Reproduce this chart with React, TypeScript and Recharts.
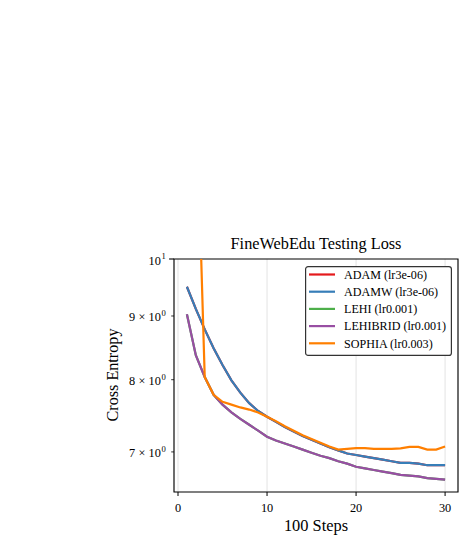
import {
  CartesianGrid,
  Legend,
  Line,
  LineChart,
  ReferenceArea,
  XAxis,
  YAxis,
} from "recharts";

const FONT = '"Liberation Serif", "Times New Roman", "DejaVu Serif", serif';

const STEPS = [
  1, 2, 3, 4, 5, 6, 7, 8, 9, 10, 11, 12, 13, 14, 15, 16, 17, 18, 19, 20, 21, 22, 23, 24, 25, 26, 27, 28,
  29, 30,
];

const ADAM = [
  9.5, 9.12, 8.78, 8.48, 8.22, 7.99, 7.81, 7.66, 7.55, 7.47, 7.4, 7.33, 7.27, 7.21, 7.16, 7.11, 7.06,
  7.02, 6.98, 6.96, 6.94, 6.92, 6.9, 6.88, 6.86, 6.86, 6.85, 6.83, 6.83, 6.83,
];
const ADAMW = [
  9.5, 9.12, 8.78, 8.48, 8.22, 7.99, 7.81, 7.66, 7.55, 7.47, 7.4, 7.33, 7.27, 7.21, 7.16, 7.11, 7.06,
  7.02, 6.98, 6.96, 6.94, 6.92, 6.9, 6.88, 6.86, 6.86, 6.85, 6.83, 6.83, 6.83,
];
const LEHI = [
  9.03, 8.37, 8.04, 7.78, 7.64, 7.53, 7.44, 7.36, 7.28, 7.2, 7.15, 7.11, 7.07, 7.03, 6.99, 6.95, 6.92,
  6.88, 6.85, 6.81, 6.79, 6.77, 6.75, 6.73, 6.71, 6.7, 6.69, 6.67, 6.66, 6.65,
];
const LEHIBRID = [
  9.03, 8.37, 8.04, 7.78, 7.64, 7.53, 7.44, 7.36, 7.28, 7.2, 7.15, 7.11, 7.07, 7.03, 6.99, 6.95, 6.92,
  6.88, 6.85, 6.81, 6.79, 6.77, 6.75, 6.73, 6.71, 6.7, 6.69, 6.67, 6.66, 6.65,
];
// first two evaluations blow up far above the plotted range and get clipped
const SOPHIA = [
  30, 14, 8.04, 7.78, 7.68, 7.64, 7.6, 7.57, 7.53, 7.47, 7.41, 7.34, 7.28, 7.22, 7.17, 7.12, 7.07,
  7.03, 7.04, 7.05, 7.05, 7.04, 7.04, 7.04, 7.045, 7.065, 7.065, 7.03, 7.03, 7.07,
];

const X_TICKS = [0, 10, 20, 30];
const Y_TICKS = [7, 8, 9, 10];

const SERIES = [
  { key: "adam", name: "ADAM (lr3e-06)", color: "#e41a1c", values: ADAM },
  { key: "adamw", name: "ADAMW (lr3e-06)", color: "#377eb8", values: ADAMW },
  { key: "lehi", name: "LEHI (lr0.001)", color: "#4daf4a", values: LEHI },
  { key: "lehibrid", name: "LEHIBRID (lr0.001)", color: "#984ea3", values: LEHIBRID },
  { key: "sophia", name: "SOPHIA (lr0.003)", color: "#ff7f00", values: SOPHIA },
];

const data = STEPS.map((step, i) => {
  const row: Record<string, number> = { step };
  SERIES.forEach((s) => {
    row[s.key] = s.values[i];
  });
  return row;
});

const X_DOMAIN = [-0.45, 31.45];
const Y_DOMAIN = [6.5, 10];

function XTick({ x, y, payload }: any) {
  return (
    <text x={x} y={y + 15.5} textAnchor="middle" fontFamily={FONT} fontSize={12.3} fill="#000">
      {payload.value}
    </text>
  );
}

// log axis: 10^1 is a major tick, 7/8/9 are labelled minor ticks
function YTick({ x, y, payload }: any) {
  const v = payload.value as number;
  const major = v === 10;
  const tx = x - 8.3;
  return (
    <g>
      <line
        x1={x - (major ? 4.9 : 2.8)}
        x2={x}
        y1={y}
        y2={y}
        stroke="#000"
        strokeWidth={major ? 1.1 : 0.8}
      />
      {major ? (
        <text x={tx} y={y + 5.5} textAnchor="end" fontFamily={FONT} fontSize={12.3} fill="#000">
          10
          <tspan dx={0.5} dy={-5.5} fontSize={8.6}>
            1
          </tspan>
        </text>
      ) : (
        <text x={tx} y={y + 5.5} textAnchor="end" fontFamily={FONT} fontSize={12.3} fill="#000">
          {v}
          <tspan dx={3.2}>×</tspan>
          <tspan dx={3.2}>10</tspan>
          <tspan dx={0.5} dy={-5.5} fontSize={8.6}>
            0
          </tspan>
        </text>
      )}
    </g>
  );
}

const ROW_H = 17.2;

function LegendBox() {
  return (
    <svg width={147} height={90} style={{ display: "block" }}>
      <rect x={0.6} y={0.6} width={145.8} height={88.8} rx={2.5} fill="#fff" stroke="#333" strokeWidth={1.2} />
      {SERIES.map((s, i) => {
        const cy = 8.5 + i * ROW_H;
        return (
          <g key={s.key}>
            <line x1={4} x2={30} y1={cy} y2={cy} stroke={s.color} strokeWidth={2.2} />
            <text x={39} y={cy + 4.2} fontFamily={FONT} fontSize={12.1} fill="#000">
              {s.name}
            </text>
          </g>
        );
      })}
    </svg>
  );
}

export default function App() {
  return (
    <div style={{ position: "absolute", left: 0, top: 0, width: 465, height: 542, background: "#fff" }}>
      <LineChart
        width={465}
        height={542}
        data={data}
        margin={{ top: 259, right: 7, bottom: 20, left: 104 }}
      >
        <CartesianGrid horizontal={false} stroke="#e3e3e3" strokeWidth={1} />
        <XAxis
          dataKey="step"
          type="number"
          domain={X_DOMAIN}
          ticks={X_TICKS}
          allowDataOverflow
          height={30}
          tickSize={4}
          tickMargin={0}
          tickLine={{ stroke: "#000", strokeWidth: 1 }}
          axisLine={false}
          tick={<XTick />}
        />
        <YAxis
          type="number"
          scale="log"
          domain={Y_DOMAIN}
          ticks={Y_TICKS}
          allowDataOverflow
          width={70}
          tickSize={0}
          tickMargin={0}
          tickLine={false}
          axisLine={false}
          tick={<YTick />}
        />
        {SERIES.map((s) => (
          <Line
            key={s.key}
            type="linear"
            dataKey={s.key}
            name={s.name}
            stroke={s.color}
            strokeWidth={2.2}
            dot={false}
            activeDot={false}
            isAnimationActive={false}
          />
        ))}
        <ReferenceArea
          x1={X_DOMAIN[0]}
          x2={X_DOMAIN[1]}
          y1={Y_DOMAIN[0]}
          y2={Y_DOMAIN[1]}
          fill="none"
          stroke="#000"
          strokeWidth={1.1}
        />
        <Legend
          layout="vertical"
          align="center"
          verticalAlign="middle"
          content={<LegendBox />}
          wrapperStyle={{ left: 305, top: 265.5, width: 147, height: 90 }}
        />
        <text x={316} y={249} textAnchor="middle" fontFamily={FONT} fontSize={16.3} fill="#000">
          FineWebEdu Testing Loss
        </text>
        <text x={316} y={531} textAnchor="middle" fontFamily={FONT} fontSize={16.4} fill="#000">
          100 Steps
        </text>
        <text
          x={117.5}
          y={375}
          transform="rotate(-90 117.5 375)"
          textAnchor="middle"
          fontFamily={FONT}
          fontSize={16.2}
          fill="#000"
        >
          Cross Entropy
        </text>
      </LineChart>
    </div>
  );
}
